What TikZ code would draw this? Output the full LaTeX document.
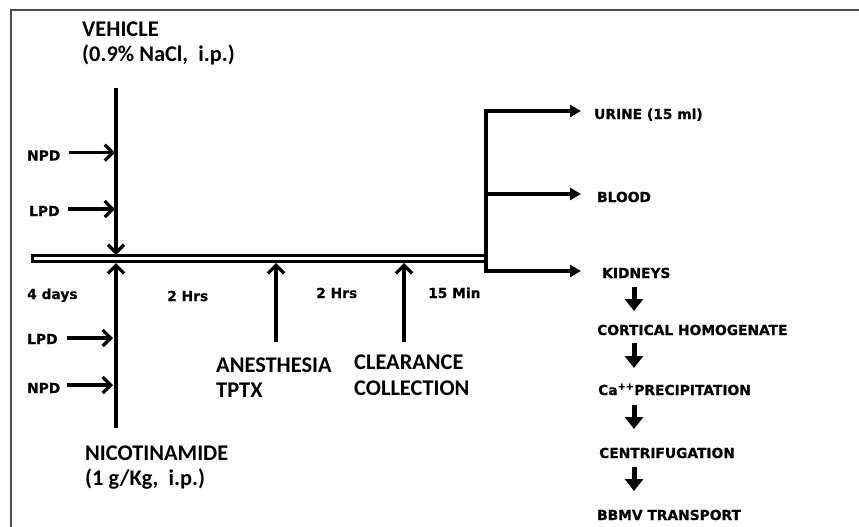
\documentclass[tikz,border=0pt]{standalone}
\usepackage{fontspec}
\setmainfont{Carlito}
\newfontfamily\labelfont[BoldFeatures={FakeBold=0.6}]{DejaVu Sans}
\usetikzlibrary{arrows.meta}
\tikzset{
  biglabel/.style={font=\fontsize{22.4}{24}\selectfont\bfseries, inner sep=0pt, anchor=base west},
  smalllabel/.style={font=\labelfont\fontsize{13.8}{15}\selectfont\bfseries, inner sep=0pt, anchor=base west},
  shaft/.style={line width=3.2pt},
  barb/.style={shaft, -{Straight Barb[length=8pt,width=16pt]}},
  branch/.style={shaft, -{Triangle[length=11pt,width=12pt]}},
  stepdown/.style={line width=5pt, -{Triangle[length=12pt,width=18pt]}},
}
\begin{document}
\begin{tikzpicture}[x=1pt, y=-1pt]
\useasboundingbox (0,0) rectangle (859,527);
\draw[line width=1.3pt, black!70] (11,527) -- (11,10) -- (859,10);
\draw[line width=3pt] (32,255.5) rectangle (486,261.5);

\node[biglabel] (vehicle) at (82,37) {VEHICLE};
\node[biglabel] (saline) at (82,62) {(0.9\% NaCl,\ \ i.p.)};
\node[biglabel] (nicotinamide) at (85,460) {NICOTINAMIDE};
\node[biglabel] (dose) at (85,485) {(1 g/Kg,\ \ i.p.)};
\node[biglabel] (anesthesia) at (216,372.5) {ANESTHESIA};
\node[biglabel] (tptx) at (216,397.5) {TPTX};
\node[biglabel] (clearance) at (354,369) {CLEARANCE};
\node[biglabel] (collection) at (354,395) {COLLECTION};

\node[smalllabel] (npdA) at (27,160.5) {NPD};
\node[smalllabel] (lpdA) at (29,216) {LPD};
\node[smalllabel] (lpdB) at (27,344) {LPD};
\node[smalllabel] (npdB) at (27,393) {NPD};
\node[smalllabel] (days) at (27,299) {4 days};
\node[smalllabel] (hrsA) at (167,301) {2 Hrs};
\node[smalllabel] (hrsB) at (316,298) {2 Hrs};
\node[smalllabel] (mins) at (428,298) {15 Min};
\node[smalllabel] (urine) at (594,119) {URINE (15 ml)};
\node[smalllabel] (blood) at (597,202) {BLOOD};
\node[smalllabel] (kidneys) at (602,278) {KIDNEYS};
\node[smalllabel] (cortical) at (597,335) {CORTICAL HOMOGENATE};
\node[smalllabel] (calcium) at (598,395) {Ca\textsuperscript{++}PRECIPITATION};
\node[smalllabel] (centrifuge) at (599,458) {CENTRIFUGATION};
\node[smalllabel] (bbmv) at (597,520) {BBMV TRANSPORT};

\coordinate (vehTail) at (116,88);
\coordinate (vehTip) at (116,255);
\coordinate (nicTail) at (116,428);
\coordinate (nicTip) at (116,263);
\coordinate (anesTail) at (276,342);
\coordinate (anesTip) at (276,263);
\coordinate (clearTail) at (404,342);
\coordinate (clearTip) at (404,263);
\coordinate (forkTop) at (486,111);
\coordinate (forkMid) at (486,194);
\coordinate (forkLow) at (486,271);

\draw[barb] (vehTail) -- (vehTip);
\draw[barb] (nicTail) -- (nicTip);
\draw[barb] (anesTail) -- (anesTip);
\draw[barb] (clearTail) -- (clearTip);
\draw[barb] (69,152.7) coordinate (npdTail) -- (115,152.7) coordinate (npdTip);
\draw[barb] (68,209) coordinate (lpdTail) -- (115,209) coordinate (lpdTip);
\draw[barb] (67,338) coordinate (lpdTailB) -- (113,338) coordinate (lpdTipB);
\draw[barb] (67,385) coordinate (npdTailB) -- (113,385) coordinate (npdTipB);

\draw[branch] (forkLow) -- (forkTop) -- (forkTop -| 581,0);
\draw[branch] (forkMid) -- (forkMid -| 581,0);
\draw[branch, line cap=rect] (forkLow) -- (forkLow -| 581,0);

\foreach \ya/\yb [count=\i] in {287/311, 343/368, 405/429, 467/491}
  \draw[stepdown] (634,\ya) coordinate (step\i) -- (634,\yb) coordinate (stepTip\i);
\end{tikzpicture}
\end{document}
